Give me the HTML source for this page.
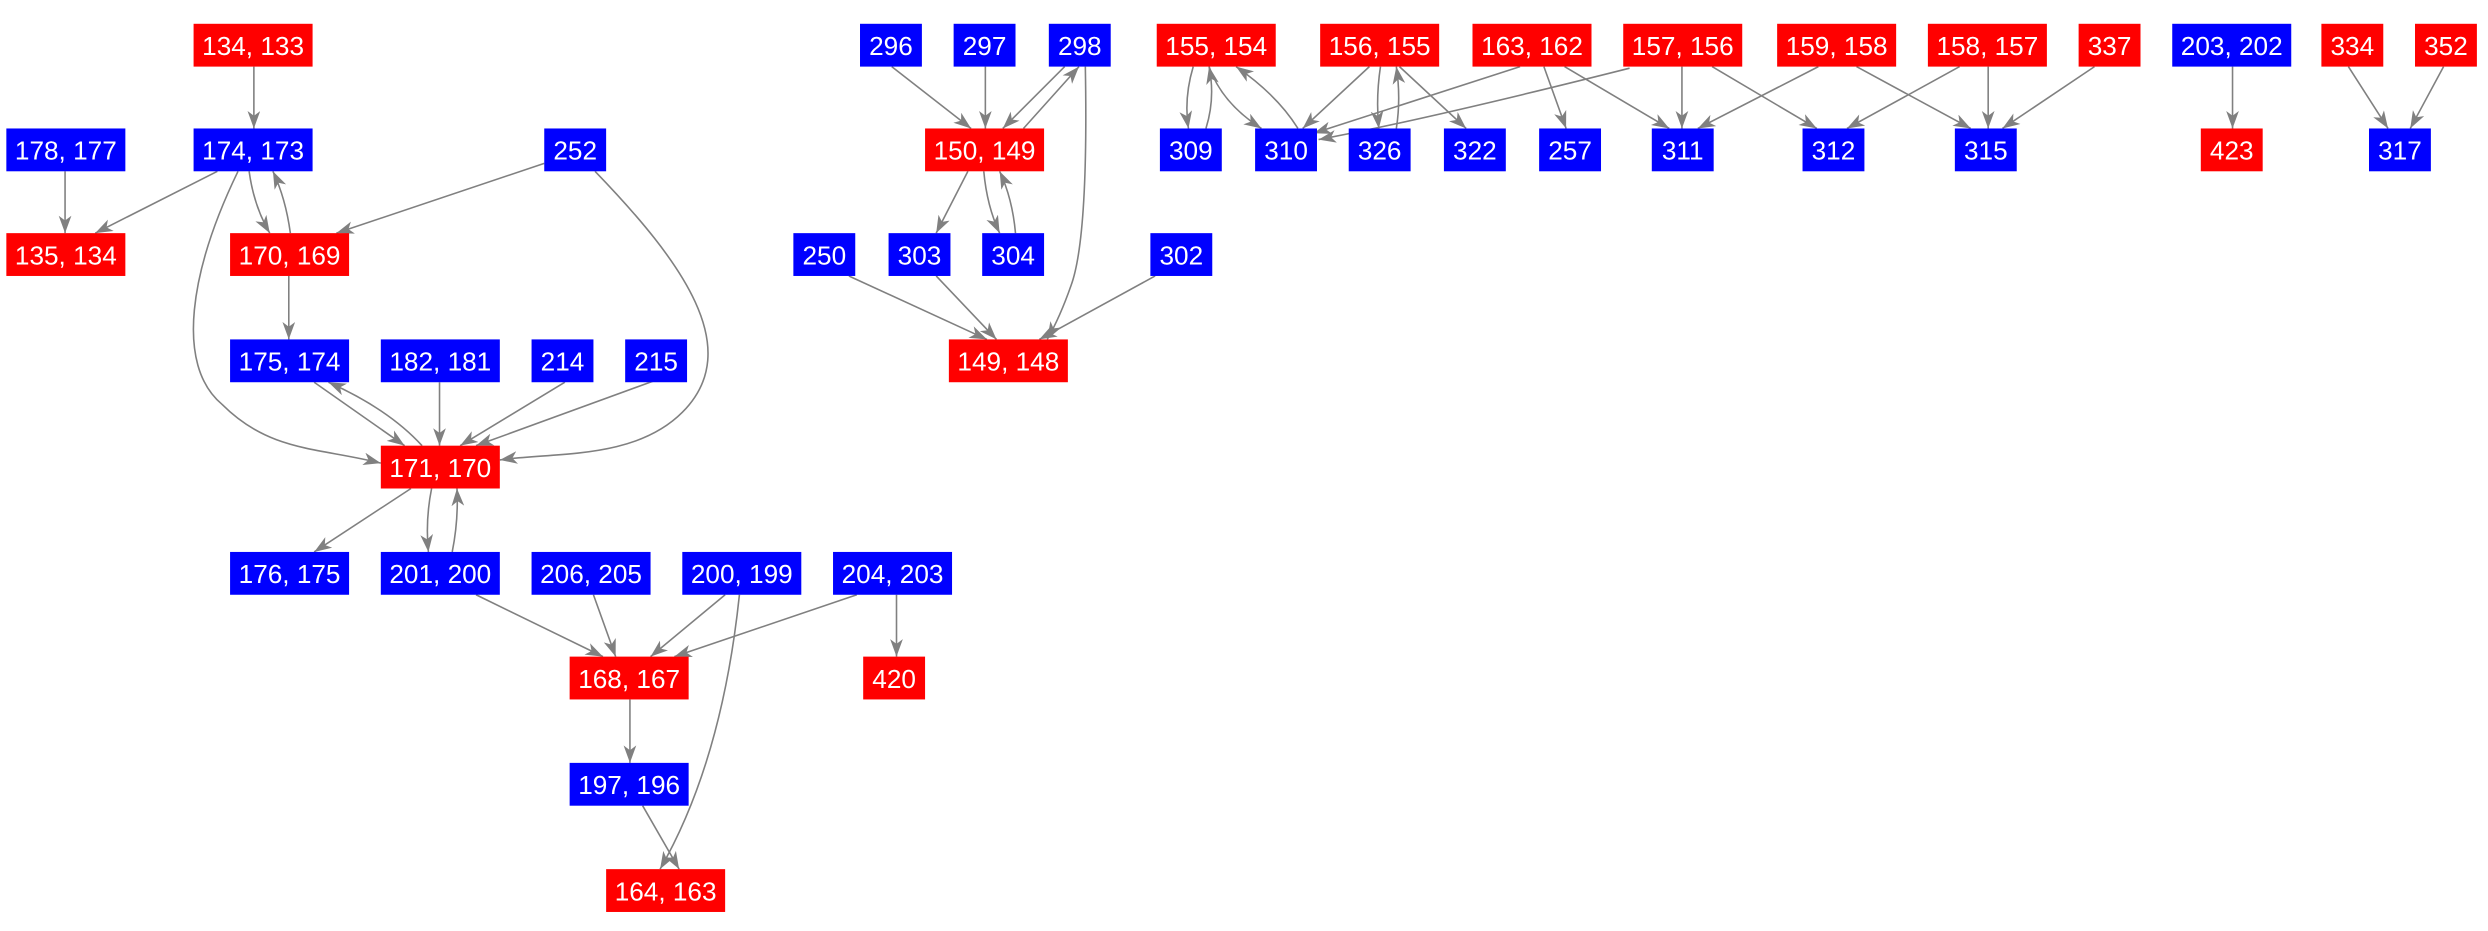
<!DOCTYPE html>
<html><head><meta charset="utf-8"><style>
html,body{margin:0;padding:0;background:#fff;width:2488px;height:931px;overflow:hidden}
svg{display:block}
text{font-family:"Liberation Sans",Arial,sans-serif;font-size:16.5px;fill:#fff;text-anchor:middle;dominant-baseline:central}
path{fill:none;stroke:#808080;stroke-width:1}
</style></head><body>
<svg width="2488" height="931" viewBox="0 0 1568 587" preserveAspectRatio="none">
<defs><marker id="a" markerUnits="userSpaceOnUse" markerWidth="12" markerHeight="10" refX="11" refY="4" orient="auto"><path d="M0,0 L11,4 L0,8 L3,4 Z" style="fill:#808080;stroke:none"/></marker></defs>
<g marker-end="url(#a)">
<path d="M160,42 L160,81"/>
<path d="M41,108 L41,147"/>
<path d="M137,108 L60,147"/>
<path d="M157,108 Q160,130 170,147"/>
<path d="M183,147 Q180,125 172,108"/>
<path d="M150,108 C120,170 110,230 140,255 C170,285 200,282 240,292"/>
<path d="M343,103 L212,147"/>
<path d="M375,108 C430,165 470,220 430,260 C400,290 350,285 315,290"/>
<path d="M182,174 L182,214"/>
<path d="M198,241 L255,281"/>
<path d="M266,281 Q245,258 207,241"/>
<path d="M277,241 L277,281"/>
<path d="M356,241 L290,281"/>
<path d="M418,238 L300,281"/>
<path d="M259,308 L198,348"/>
<path d="M272,308 Q268,328 270,348"/>
<path d="M285,348 Q289,328 288,308"/>
<path d="M300,375 L380,414"/>
<path d="M374,375 L388,414"/>
<path d="M457,375 L410,414"/>
<path d="M466,375 Q455,480 416,548"/>
<path d="M540,375 L425,414"/>
<path d="M565,375 L565,414"/>
<path d="M397,441 L397,481"/>
<path d="M405,508 L428,548"/>
<path d="M562,42 L612,81"/>
<path d="M621,42 L621,81"/>
<path d="M671,42 L632,81"/>
<path d="M645,81 L680,42"/>
<path d="M684,42 Q686,150 675,180 Q668,200 660,214"/>
<path d="M610,108 L590,147"/>
<path d="M620,108 Q622,130 630,147"/>
<path d="M640,147 Q638,125 630,108"/>
<path d="M535,174 L622,214"/>
<path d="M590,174 L628,214"/>
<path d="M728,174 L655,214"/>
<path d="M752,42 Q746,62 749,81"/>
<path d="M760,81 Q766,62 762,42"/>
<path d="M762,42 Q770,65 795,81"/>
<path d="M818,81 Q805,60 779,42"/>
<path d="M863,42 L821,81"/>
<path d="M870,42 Q867,62 869,81"/>
<path d="M880,81 Q883,62 880,42"/>
<path d="M882,42 L924,81"/>
<path d="M958,42 L828,84"/>
<path d="M973,42 L987,81"/>
<path d="M986,42 L1052,81"/>
<path d="M1027,43 Q900,75 831,88"/>
<path d="M1060,42 L1060,81"/>
<path d="M1079,42 L1145,81"/>
<path d="M1146,42 L1070,81"/>
<path d="M1170,42 L1242,81"/>
<path d="M1235,42 L1164,81"/>
<path d="M1253,42 L1253,81"/>
<path d="M1320,42 L1262,81"/>
<path d="M1407,42 L1407,81"/>
<path d="M1480,42 L1505,81"/>
<path d="M1540,42 L1519,81"/>
</g>
<g>
<rect x="122" y="15" width="75" height="27" fill="#f00"/><text x="159.5" y="29">134, 133</text>
<rect x="4" y="81" width="75" height="27" fill="#00f"/><text x="41.5" y="95">178, 177</text>
<rect x="122" y="81" width="75" height="27" fill="#00f"/><text x="159.5" y="95">174, 173</text>
<rect x="343" y="81" width="39" height="27" fill="#00f"/><text x="362.5" y="95">252</text>
<rect x="4" y="147" width="75" height="27" fill="#f00"/><text x="41.5" y="161">135, 134</text>
<rect x="145" y="147" width="75" height="27" fill="#f00"/><text x="182.5" y="161">170, 169</text>
<rect x="145" y="214" width="75" height="27" fill="#00f"/><text x="182.5" y="228">175, 174</text>
<rect x="240" y="214" width="75" height="27" fill="#00f"/><text x="277.5" y="228">182, 181</text>
<rect x="335" y="214" width="39" height="27" fill="#00f"/><text x="354.5" y="228">214</text>
<rect x="394" y="214" width="39" height="27" fill="#00f"/><text x="413.5" y="228">215</text>
<rect x="240" y="281" width="75" height="27" fill="#f00"/><text x="277.5" y="295">171, 170</text>
<rect x="145" y="348" width="75" height="27" fill="#00f"/><text x="182.5" y="362">176, 175</text>
<rect x="240" y="348" width="75" height="27" fill="#00f"/><text x="277.5" y="362">201, 200</text>
<rect x="335" y="348" width="75" height="27" fill="#00f"/><text x="372.5" y="362">206, 205</text>
<rect x="430" y="348" width="75" height="27" fill="#00f"/><text x="467.5" y="362">200, 199</text>
<rect x="525" y="348" width="75" height="27" fill="#00f"/><text x="562.5" y="362">204, 203</text>
<rect x="359" y="414" width="75" height="27" fill="#f00"/><text x="396.5" y="428">168, 167</text>
<rect x="544" y="414" width="39" height="27" fill="#f00"/><text x="563.5" y="428">420</text>
<rect x="359" y="481" width="75" height="27" fill="#00f"/><text x="396.5" y="495">197, 196</text>
<rect x="382" y="548" width="75" height="27" fill="#f00"/><text x="419.5" y="562">164, 163</text>
<rect x="542" y="15" width="39" height="27" fill="#00f"/><text x="561.5" y="29">296</text>
<rect x="601" y="15" width="39" height="27" fill="#00f"/><text x="620.5" y="29">297</text>
<rect x="661" y="15" width="39" height="27" fill="#00f"/><text x="680.5" y="29">298</text>
<rect x="583" y="81" width="75" height="27" fill="#f00"/><text x="620.5" y="95">150, 149</text>
<rect x="500" y="147" width="39" height="27" fill="#00f"/><text x="519.5" y="161">250</text>
<rect x="560" y="147" width="39" height="27" fill="#00f"/><text x="579.5" y="161">303</text>
<rect x="619" y="147" width="39" height="27" fill="#00f"/><text x="638.5" y="161">304</text>
<rect x="725" y="147" width="39" height="27" fill="#00f"/><text x="744.5" y="161">302</text>
<rect x="598" y="214" width="75" height="27" fill="#f00"/><text x="635.5" y="228">149, 148</text>
<rect x="729" y="15" width="75" height="27" fill="#f00"/><text x="766.5" y="29">155, 154</text>
<rect x="832" y="15" width="75" height="27" fill="#f00"/><text x="869.5" y="29">156, 155</text>
<rect x="928" y="15" width="75" height="27" fill="#f00"/><text x="965.5" y="29">163, 162</text>
<rect x="1023" y="15" width="75" height="27" fill="#f00"/><text x="1060.5" y="29">157, 156</text>
<rect x="1120" y="15" width="75" height="27" fill="#f00"/><text x="1157.5" y="29">159, 158</text>
<rect x="1215" y="15" width="75" height="27" fill="#f00"/><text x="1252.5" y="29">158, 157</text>
<rect x="1310" y="15" width="39" height="27" fill="#f00"/><text x="1329.5" y="29">337</text>
<rect x="1369" y="15" width="75" height="27" fill="#00f"/><text x="1406.5" y="29">203, 202</text>
<rect x="1463" y="15" width="39" height="27" fill="#f00"/><text x="1482.5" y="29">334</text>
<rect x="1522" y="15" width="39" height="27" fill="#f00"/><text x="1541.5" y="29">352</text>
<rect x="731" y="81" width="39" height="27" fill="#00f"/><text x="750.5" y="95">309</text>
<rect x="791" y="81" width="39" height="27" fill="#00f"/><text x="810.5" y="95">310</text>
<rect x="850" y="81" width="39" height="27" fill="#00f"/><text x="869.5" y="95">326</text>
<rect x="910" y="81" width="39" height="27" fill="#00f"/><text x="929.5" y="95">322</text>
<rect x="970" y="81" width="39" height="27" fill="#00f"/><text x="989.5" y="95">257</text>
<rect x="1041" y="81" width="39" height="27" fill="#00f"/><text x="1060.5" y="95">311</text>
<rect x="1136" y="81" width="39" height="27" fill="#00f"/><text x="1155.5" y="95">312</text>
<rect x="1232" y="81" width="39" height="27" fill="#00f"/><text x="1251.5" y="95">315</text>
<rect x="1387" y="81" width="39" height="27" fill="#f00"/><text x="1406.5" y="95">423</text>
<rect x="1493" y="81" width="39" height="27" fill="#00f"/><text x="1512.5" y="95">317</text>
</g>
</svg>
</body></html>
